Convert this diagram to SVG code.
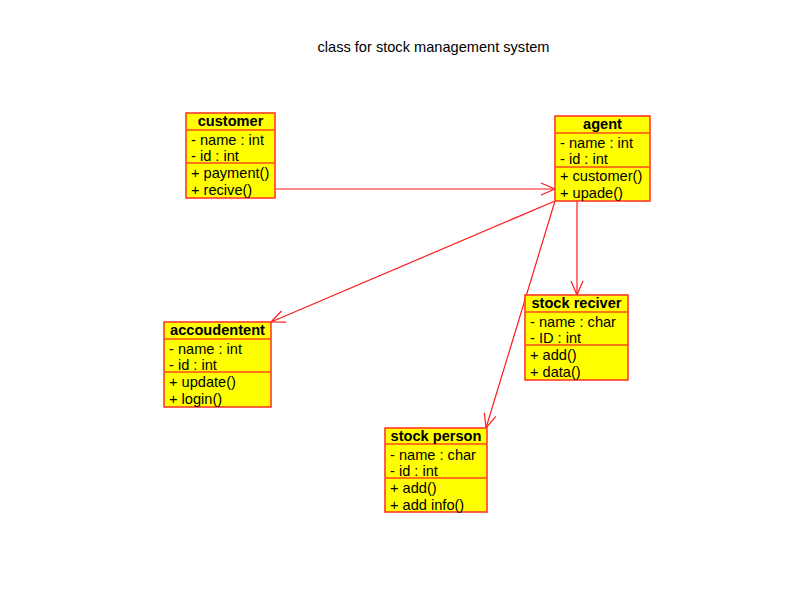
<svg xmlns="http://www.w3.org/2000/svg" width="799" height="593" viewBox="0 0 799 593">
<style>
.box{fill:#ffff00;stroke:#ff3a2a;stroke-width:1.6}
.div{stroke:#ff4a1a;stroke-width:1.6}
.t{font-family:"Liberation Sans",Arial,sans-serif;font-size:14.6px;fill:#000}
.h{font-weight:bold;text-anchor:middle}
.c{stroke:#ff1a1a;stroke-width:1.2;fill:none}
</style>
<defs>
<marker id="arr" markerWidth="20" markerHeight="20" refX="16" refY="8" orient="auto" markerUnits="userSpaceOnUse">
<path d="M2,2 L16,8 L2,14" fill="none" stroke="#ff1a1a" stroke-width="1.2"/>
</marker>
</defs>
<rect width="799" height="593" fill="#fff"/>
<text class="t" x="433.5" y="52" text-anchor="middle">class for stock management system</text>
<g id="connectors">
<line class="c" x1="274" y1="189" x2="555" y2="189" marker-end="url(#arr)"/>
<line class="c" x1="555" y1="201" x2="271" y2="322" marker-end="url(#arr)"/>
<line class="c" x1="555" y1="201" x2="486" y2="428" marker-end="url(#arr)"/>
<line class="c" x1="577" y1="201" x2="577" y2="295" marker-end="url(#arr)"/>
</g>
<g id="customer">
<rect class="box" x="186" y="113" width="89" height="85"/>
<line class="div" x1="186" y1="130" x2="275" y2="130"/>
<line class="div" x1="186" y1="163" x2="275" y2="163"/>
<text class="t h" x="230.5" y="126">customer</text>
<text class="t" x="191" y="145">- name : int</text>
<text class="t" x="191" y="161">- id : int</text>
<text class="t" x="191" y="178">+ payment()</text>
<text class="t" x="191" y="195">+ recive()</text>
</g>
<g id="agent">
<rect class="box" x="555" y="116" width="95" height="85"/>
<line class="div" x1="555" y1="133" x2="650" y2="133"/>
<line class="div" x1="555" y1="167" x2="650" y2="167"/>
<text class="t h" x="602.5" y="129">agent</text>
<text class="t" x="560" y="148">- name : int</text>
<text class="t" x="560" y="164">- id : int</text>
<text class="t" x="560" y="181">+ customer()</text>
<text class="t" x="560" y="198">+ upade()</text>
</g>
<g id="accoudentent">
<rect class="box" x="164" y="322" width="107" height="85"/>
<line class="div" x1="164" y1="339" x2="271" y2="339"/>
<line class="div" x1="164" y1="372" x2="271" y2="372"/>
<text class="t h" x="217.5" y="335">accoudentent</text>
<text class="t" x="169" y="354">- name : int</text>
<text class="t" x="169" y="370">- id : int</text>
<text class="t" x="169" y="387">+ update()</text>
<text class="t" x="169" y="404">+ login()</text>
</g>
<g id="stock_reciver">
<rect class="box" x="525" y="295" width="103" height="85"/>
<line class="div" x1="525" y1="312" x2="628" y2="312"/>
<line class="div" x1="525" y1="345" x2="628" y2="345"/>
<text class="t h" x="576.5" y="308">stock reciver</text>
<text class="t" x="530" y="327">- name : char</text>
<text class="t" x="530" y="343">- ID : int</text>
<text class="t" x="530" y="360">+ add()</text>
<text class="t" x="530" y="377">+ data()</text>
</g>
<g id="stock_person">
<rect class="box" x="385" y="428" width="102" height="84"/>
<line class="div" x1="385" y1="444" x2="487" y2="444"/>
<line class="div" x1="385" y1="478" x2="487" y2="478"/>
<text class="t h" x="436" y="441">stock person</text>
<text class="t" x="390" y="460">- name : char</text>
<text class="t" x="390" y="476">- id : int</text>
<text class="t" x="390" y="493">+ add()</text>
<text class="t" x="390" y="510">+ add info()</text>
</g>
</svg>
